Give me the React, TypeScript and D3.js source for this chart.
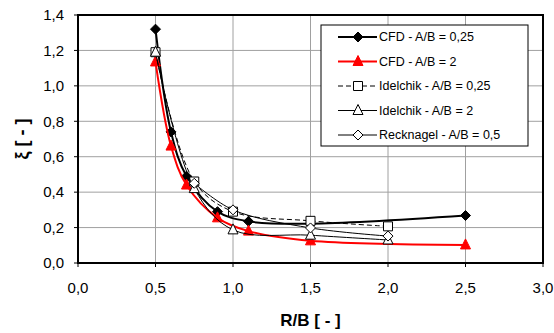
import React from 'react';
import * as d3 from 'd3';

// series
const cfd025X = [0.5, 0.6, 0.7, 0.9, 1.1, 1.5, 2.5];
const cfd025Y = [1.32, 0.74, 0.49, 0.29, 0.235, 0.222, 0.268];
const cfd2X = [0.5, 0.6, 0.7, 0.9, 1.1, 1.5, 2.5];
const cfd2Y = [1.135, 0.66, 0.44, 0.255, 0.18, 0.125, 0.102];
const idel025X = [0.5, 0.75, 1.0, 1.5, 2.0];
const idel025Y = [1.19, 0.46, 0.29, 0.238, 0.207];
const idel2X = [0.5, 0.75, 1.0, 1.5, 2.0];
const idel2Y = [1.19, 0.42, 0.187, 0.157, 0.13];
const reckX = [0.75, 1.0, 1.5, 2.0];
const reckY = [0.45, 0.3, 0.198, 0.152];

const xTicks = [0, 0.5, 1, 1.5, 2, 2.5, 3];
const yTicks = [0, 0.2, 0.4, 0.6, 0.8, 1.0, 1.2, 1.4];

const series = [
  { name: 'CFD - A/B = 0,25', xs: cfd025X, ys: cfd025Y, color: '#000', width: 2, dash: '', marker: 'diamond', fill: '#000' },
  { name: 'CFD - A/B = 2', xs: cfd2X, ys: cfd2Y, color: '#ff0000', width: 2, dash: '', marker: 'triangle', fill: '#ff0000' },
  { name: 'Idelchik - A/B = 0,25', xs: idel025X, ys: idel025Y, color: '#000', width: 1, dash: '5,3', marker: 'square', fill: '#fff' },
  { name: 'Idelchik - A/B = 2', xs: idel2X, ys: idel2Y, color: '#000', width: 1, dash: '', marker: 'triangle', fill: '#fff' },
  { name: 'Recknagel - A/B = 0,5', xs: reckX, ys: reckY, color: '#000', width: 1, dash: '', marker: 'diamond', fill: '#fff' },
];

function markerPath(type: string, cx: number, cy: number) {
  if (type === 'diamond') {
    const r = 5;
    return `M${cx},${cy - r}L${cx + r},${cy}L${cx},${cy + r}L${cx - r},${cy}Z`;
  }
  if (type === 'square') {
    const r = 4.5;
    return `M${cx - r},${cy - r}H${cx + r}V${cy + r}H${cx - r}Z`;
  }
  // triangle
  const r = 5;
  return `M${cx},${cy - r - 1}L${cx + r},${cy + r - 1}L${cx - r},${cy + r - 1}Z`;
}

const fmt = (v: number) => v.toFixed(1).replace('.', ',');

export default function App() {
  const margin = { left: 78, top: 15, right: 11, bottom: 70 };
  const W = 554;
  const H = 333;
  const x = d3.scaleLinear().domain([0, 3]).range([margin.left, W - margin.right]);
  const y = d3.scaleLinear().domain([0, 1.4]).range([H - margin.bottom, margin.top]);
  const line = d3.line<[number, number]>()
    .x(d => x(d[0]))
    .y(d => y(d[1]))
    .curve(d3.curveCatmullRom.alpha(0.5));

  const font = 'Liberation Sans, Arial, sans-serif';
  const legend = { x: 321, y: 25, w: 207, h: 121 };

  return (
    <svg width={W} height={H} style={{ position: 'absolute', left: 0, top: 0, background: '#fff' }} fontFamily={font}>
      {/* grid */}
      {xTicks.slice(1, -1).map(t => (
        <line key={'gx' + t} x1={x(t)} x2={x(t)} y1={y(0)} y2={y(1.4)} stroke="#a0a0a0" strokeWidth={1} />
      ))}
      {yTicks.slice(1, -1).map(t => (
        <line key={'gy' + t} x1={x(0)} x2={x(3)} y1={y(t)} y2={y(t)} stroke="#a0a0a0" strokeWidth={1} />
      ))}
      {/* plot frame */}
      <rect x={x(0)} y={y(1.4)} width={x(3) - x(0)} height={y(0) - y(1.4)} fill="none" stroke="#000" strokeWidth={2} />
      {/* ticks and labels */}
      {yTicks.map(t => (
        <g key={'ty' + t}>
          <line x1={x(0) - 4} x2={x(0)} y1={y(t)} y2={y(t)} stroke="#000" strokeWidth={1} />
          <text x={x(0) - 14} y={y(t)} dy="0.35em" textAnchor="end" fontSize={15} fill="#000">{fmt(t)}</text>
        </g>
      ))}
      {xTicks.map(t => (
        <g key={'tx' + t}>
          <line x1={x(t)} x2={x(t)} y1={y(0)} y2={y(0) + 4} stroke="#000" strokeWidth={1} />
          <text x={x(t)} y={293} textAnchor="middle" fontSize={15} fill="#000">{fmt(t)}</text>
        </g>
      ))}
      {/* axis titles */}
      <text x={x(1.5)} y={326} textAnchor="middle" fontSize={17} fontWeight="bold" fill="#000">R/B [ - ]</text>
      <text transform="translate(28,139) rotate(-90)" textAnchor="middle" fontSize={18} fontWeight="bold" fill="#000">ξ [ - ]</text>
      {/* series */}
      {series.map(s => {
        const pts = s.xs.map((v, i) => [v, s.ys[i]] as [number, number]);
        return (
          <g key={s.name}>
            <path d={line(pts) || ''} fill="none" stroke={s.color} strokeWidth={s.width} strokeDasharray={s.dash} />
            {pts.map((p, i) => (
              <path key={i} d={markerPath(s.marker, x(p[0]), y(p[1]))} fill={s.fill} stroke={s.color} strokeWidth={1} />
            ))}
          </g>
        );
      })}
      {/* legend */}
      <rect x={legend.x} y={legend.y} width={legend.w} height={legend.h} fill="#fff" stroke="#000" strokeWidth={1} />
      {series.map((s, i) => {
        const ly = 37 + i * 24.5;
        return (
          <g key={'lg' + s.name}>
            <line x1={338} x2={377} y1={ly} y2={ly} stroke={s.color} strokeWidth={s.width} strokeDasharray={s.dash} />
            <path d={markerPath(s.marker, 358, ly)} fill={s.fill} stroke={s.color} strokeWidth={1} />
            <text x={379} y={ly} dy="0.35em" fontSize={12.5} fill="#000">{s.name}</text>
          </g>
        );
      })}
    </svg>
  );
}
